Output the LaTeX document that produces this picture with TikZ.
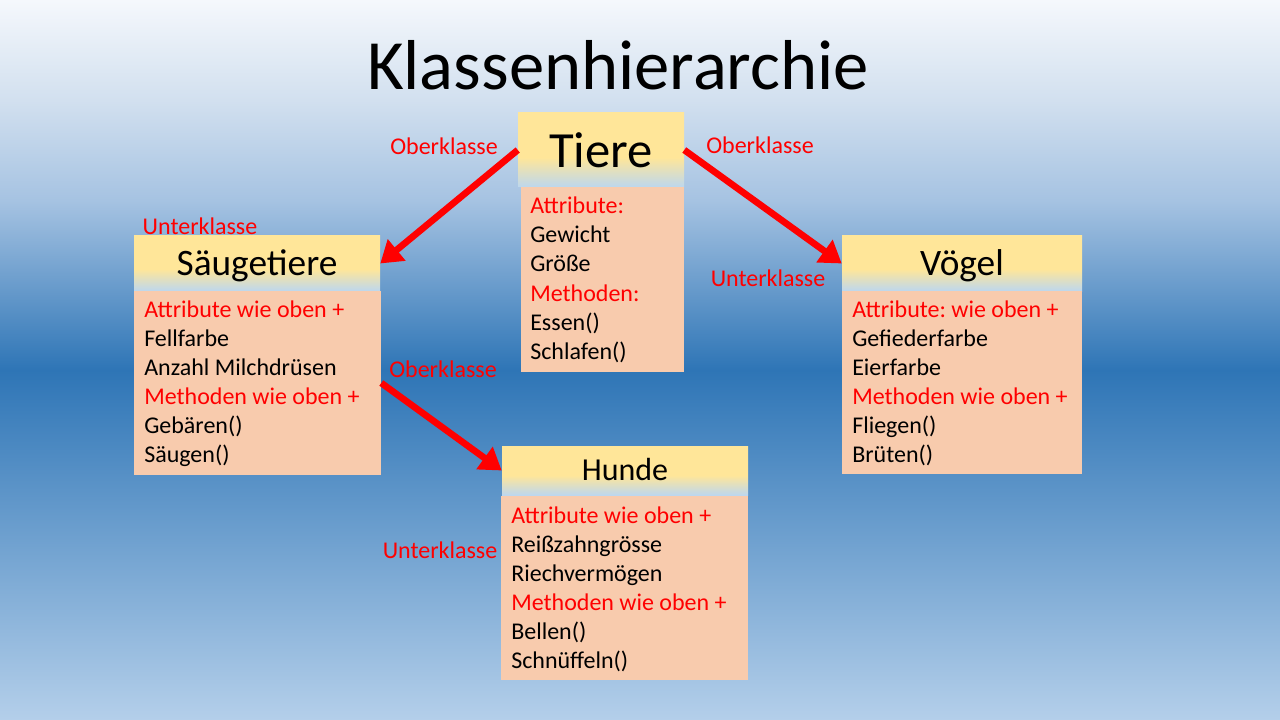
\documentclass[tikz,border=0pt]{standalone}
\usepackage{fontspec}
\setmainfont{Carlito}
\usetikzlibrary{arrows.meta,fit}
\frenchspacing
\definecolor{hyel}{HTML}{FFE699}
\definecolor{hblue}{HTML}{BDD7EE}
\definecolor{bodyfill}{HTML}{F8CBAD}
\definecolor{bga}{HTML}{F5F8FC}
\definecolor{bgb}{HTML}{D2E0EF}
\definecolor{bgc}{HTML}{A6C3E2}
\definecolor{bgd}{HTML}{2E75B6}
\definecolor{bge}{HTML}{B4CFEA}
\definecolor{lblred}{HTML}{FF0000}
\pgfdeclareverticalshading{hdrshade}{100bp}{color(0bp)=(hblue); color(25bp)=(hblue); color(45bp)=(hyel); color(100bp)=(hyel)}
\pgfdeclareverticalshading{bgshade}{100bp}{color(0bp)=(bge); color(25bp)=(bge); color(49.31bp)=(bgd); color(61.11bp)=(bgc); color(68.06bp)=(bgb); color(75bp)=(bga); color(100bp)=(bga)}
\begin{document}
\frenchspacing
\begin{tikzpicture}[x=0.75pt,y=-0.75pt,
  hdr/.style={rectangle, inner sep=0pt, draw=none, shade, shading=hdrshade},
  bodybox/.style={rectangle, inner sep=0pt, draw=none, fill=bodyfill},
  lbl/.style={text=lblred, inner sep=0pt, font=\fontsize{18}{21}\selectfont},
  ln/.style={anchor=base west, inner sep=0pt, font=\fontsize{18}{21}\selectfont},
  rl/.style={ln, text=lblred},
  htxt/.style={anchor=base, inner sep=0pt},
  arr/.style={lblred, line width=5pt, -{Triangle[length=16pt,width=20pt]}}]
\shade[shading=bgshade] (0,0) rectangle (1280,720);
\useasboundingbox (0,0) rectangle (1280,720);

% title
\node[htxt, font=\fontsize{53}{60}\selectfont] (title) at (618,90) {Klassenhierarchie};

% Tiere
\node[hdr, fit={(518,113) (684,187)}] (tiereH) {};
\node[bodybox, fit={(521,187) (684,372)}] (tiereB) {};
\node[htxt, font=\fontsize{38}{42}\selectfont] (tiereT) at (601,168) {Tiere};
\node[rl] (t1) at (530,214) {Attribute:};
\node[ln] (t2) at (530,243) {Gewicht};
\node[ln] (t3) at (530,272) {Größe};
\node[rl] (t4) at (530,301) {Methoden:};
\node[ln] (t5) at (530,330) {Essen()};
\node[ln] (t6) at (530,359) {Schlafen()};

% Saeugetiere
\node[hdr, fit={(134,236) (380,291)}] (saeugH) {};
\node[bodybox, fit={(134,291) (381,475)}] (saeugB) {};
\node[htxt, font=\fontsize{28}{32}\selectfont] (saeugT) at (257,275) {Säugetiere};
\node[rl] (s1) at (144,317) {Attribute wie oben +};
\node[ln] (s2) at (144,346) {Fellfarbe};
\node[ln] (s3) at (144,375) {Anzahl Milchdrüsen};
\node[rl] (s4) at (144,404) {Methoden wie oben +};
\node[ln] (s5) at (144,433) {Gebären()};
\node[ln] (s6) at (144,462) {Säugen()};

% Voegel
\node[hdr, fit={(842,236) (1082,291)}] (voegelH) {};
\node[bodybox, fit={(842,291) (1082,474)}] (voegelB) {};
\node[htxt, font=\fontsize{28}{32}\selectfont] (voegelT) at (962,275) {Vögel};
\node[rl] (v1) at (852,317) {Attribute: wie oben +};
\node[ln] (v2) at (852,346) {Gefiederfarbe};
\node[ln] (v3) at (852,375) {Eierfarbe};
\node[rl] (v4) at (852,404) {Methoden wie oben +};
\node[ln] (v5) at (852,433) {Fliegen()};
\node[ln] (v6) at (852,462) {Brüten()};

% Hunde
\node[hdr, fit={(502,446) (748,495)}] (hundeH) {};
\node[bodybox, fit={(501,496) (748,680)}] (hundeB) {};
\node[htxt, font=\fontsize{24}{28}\selectfont] (hundeT) at (625,480) {Hunde};
\node[rl] (h1) at (511,523) {Attribute wie oben +};
\node[ln] (h2) at (511,552) {Reißzahngrösse};
\node[ln] (h3) at (511,581) {Riechvermögen};
\node[rl] (h4) at (511,610) {Methoden wie oben +};
\node[ln] (h5) at (511,639) {Bellen()};
\node[ln] (h6) at (511,668) {Schnüffeln()};

% labels
\node[lbl] (o1) at (444,146) {Oberklasse};
\node[lbl] (o2) at (760,145) {Oberklasse};
\node[lbl] (u1) at (200,226) {Unterklasse};
\node[lbl] (u2) at (768,278) {Unterklasse};
\node[lbl] (o3) at (443,369) {Oberklasse};
\node[lbl] (u3) at (440,550) {Unterklasse};

% arrows
\draw[arr] (tiereH.west) -- (saeugH.east);
\draw[arr] (tiereH.east) -- (voegelH.west);
\draw[arr] (saeugB.east) -- (hundeH.west);
\end{tikzpicture}
\end{document}
